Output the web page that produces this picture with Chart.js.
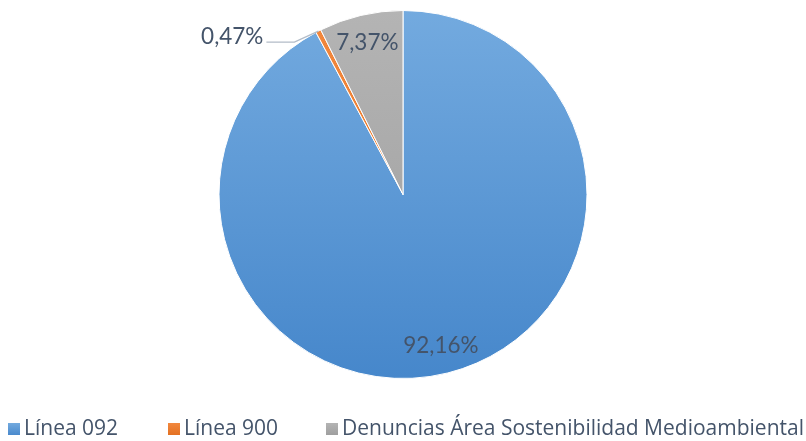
<!DOCTYPE html>
<html><head><meta charset="utf-8">
<script src="https://cdn.jsdelivr.net/npm/chart.js@4.4.1/dist/chart.umd.min.js"></script>
<style>html,body{margin:0;padding:0;background:#fff}#wrap{width:806px;height:441px;position:relative}</style>
</head><body><div id="wrap"><canvas id="c" width="806" height="441"></canvas></div>
<script>
const categories = ["Línea 092", "Línea 900", "Denuncias Área Sostenibilidad Medioambiental"];
const values = [92.16, 0.47, 7.37];
const valueLabels = ["92,16%", "0,47%", "7,37%"];
const baseColors = ["#5b9bd5", "#ed7d31", "#a5a5a5"];
const gradStops = [["#73aadf", "#4687cb"], ["#f2883e", "#e26f20"], ["#b4b4b4", "#9d9d9d"]];
const textColor = "#44546a";

function sliceFill(ctx, i) {
  const chart = ctx.chart;
  const ca = chart.chartArea;
  if (!ca) return baseColors[i];
  const g = chart.ctx.createLinearGradient(0, ca.top, 0, ca.bottom);
  g.addColorStop(0, gradStops[i][0]);
  g.addColorStop(1, gradStops[i][1]);
  return g;
}

const labelPlugin = {
  id: 'labels',
  afterDatasetsDraw(chart) {
    const ctx = chart.ctx;
    const meta = chart.getDatasetMeta(0);
    ctx.save();
    ctx.font = '22.5px Lato, "Open Sans", sans-serif';
    ctx.fillStyle = textColor;
    ctx.textBaseline = 'middle';
    meta.data.forEach((arc, i) => {
      const mid = (arc.startAngle + arc.endAngle) / 2;
      const R = arc.outerRadius;
      if (values[i] < 2) {
        const sx = arc.x + Math.cos(mid) * R;
        const sy = arc.y + Math.sin(mid) * R;
        const ex = sx - 24, ey = sy + 11;
        ctx.strokeStyle = '#b3bcc8';
        ctx.lineWidth = 1.3;
        ctx.beginPath();
        ctx.moveTo(sx, sy);
        ctx.lineTo(ex, ey);
        ctx.lineTo(ex - 28, ey);
        ctx.stroke();
        ctx.textAlign = 'right';
        ctx.fillText(valueLabels[i], ex - 31, ey - 5);
      } else {
        const r = R * 0.845;
        ctx.textAlign = 'center';
        ctx.fillText(valueLabels[i], arc.x + Math.cos(mid) * r, arc.y + Math.sin(mid) * r);
      }
    });
    ctx.restore();
  }
};

const legendPlugin = {
  id: 'customLegend',
  afterDraw(chart) {
    const ctx = chart.ctx;
    ctx.save();
    ctx.font = '21px "Open Sans", Lato, sans-serif';
    ctx.textBaseline = 'middle';
    ctx.textAlign = 'left';
    const y = 429;
    const starts = [8, 168, 326];
    categories.forEach((c, i) => {
      const x = starts[i];
      const g = ctx.createLinearGradient(0, y - 6, 0, y + 7);
      g.addColorStop(0, gradStops[i][0]);
      g.addColorStop(1, gradStops[i][1]);
      ctx.fillStyle = g;
      ctx.fillRect(x, y - 6, 12, 12);
      ctx.fillStyle = textColor;
      ctx.fillText(c, x + 16, y);
    });
    ctx.restore();
  }
};

new Chart(document.getElementById('c'), {
  type: 'pie',
  data: {
    labels: categories,
    datasets: [{
      data: values,
      backgroundColor: (ctx) => sliceFill(ctx, ctx.dataIndex),
      borderColor: '#ffffff',
      borderWidth: 1
    }]
  },
  options: {
    responsive: false,
    animation: false,
    layout: { padding: { top: 10, bottom: 62, left: 0, right: 0 } },
    plugins: { legend: { display: false }, tooltip: { enabled: false } }
  },
  plugins: [labelPlugin, legendPlugin]
});
</script></body></html>
